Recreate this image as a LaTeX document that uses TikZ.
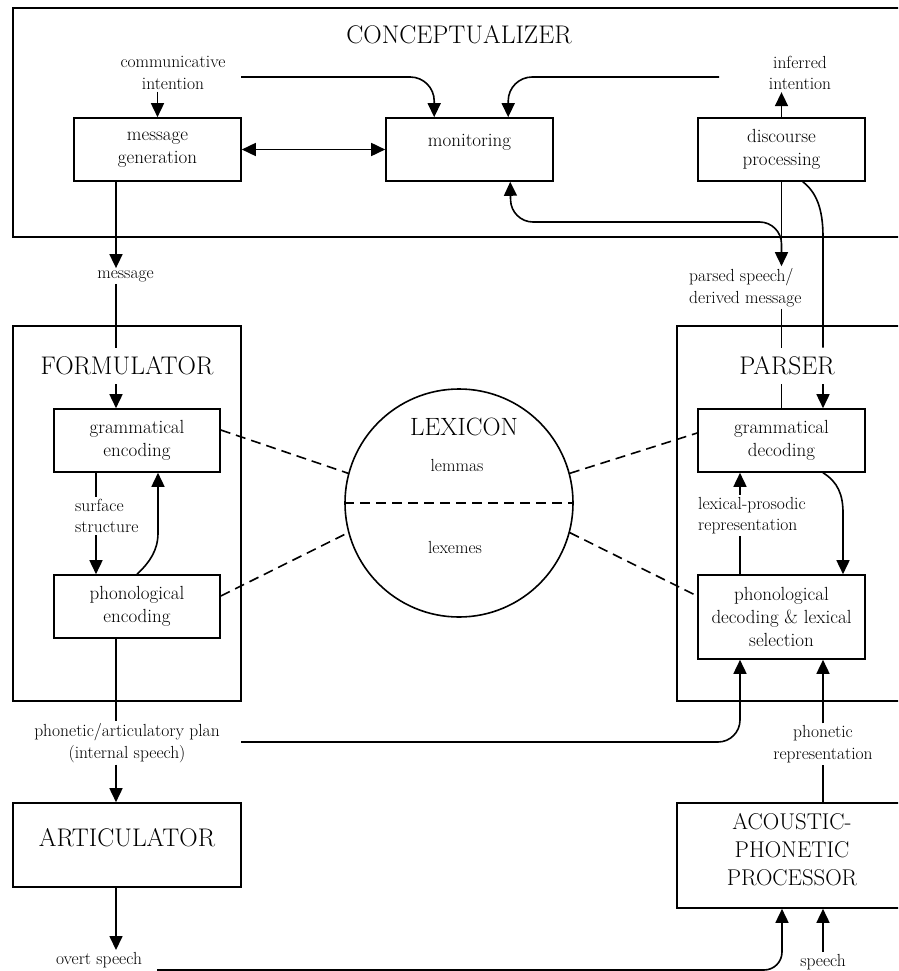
\documentclass[tikz,border=0pt]{standalone}
\usepackage{fontspec}
\usetikzlibrary{arrows.meta}
\begin{document}
\begin{tikzpicture}[x=1pt,y=-1pt,
  lw/.style={line width=1.6pt},
  arr/.style={lw,-{Triangle[length=14pt,width=13pt]}},
  darr/.style={lw,{Triangle[length=14pt,width=13pt]}-{Triangle[length=14pt,width=13pt]}},
  boxs/.style={draw,lw,inner sep=0pt,align=center,font=\fontsize{19}{23}\selectfont},
  big/.style={draw,lw,inner sep=0pt},
  ttl/.style={inner sep=9pt,font=\fontsize{25.5}{30}\selectfont},
  lbl/.style={inner sep=2pt,align=center,font=\fontsize{17.5}{21.5}\selectfont},
  dsh/.style={lw,dash pattern=on 10pt off 6pt},
]
\clip (0,0) rectangle (898,971);
\fill[white] (0,0) rectangle (898,971);

% ---------- conceptualizer ----------
\node[big, minimum width=897pt, minimum height=229pt] (concept) at (461.5,122.5) {};
\node[ttl] (ctitle) at (459,35) {CONCEPTUALIZER};
\node[boxs, minimum width=167pt, minimum height=63pt] (mg) at (157.5,149.5) {message\\generation};
\node[boxs, minimum width=167pt, minimum height=63pt] (mon) at (469.5,149.5) {};
\node[inner sep=0pt, font=\fontsize{19}{23}\selectfont] (montxt) at (469.5,142) {monitoring};
\node[boxs, minimum width=167pt, minimum height=63pt] (dp) at (781.5,149.5) {discourse\\processing};
\node[lbl] (ci) at (173,73) {communicative\\intention};
\node[lbl] (ii) at (800,73) {inferred\\intention};

% ---------- formulator ----------
\node[big, minimum width=228pt, minimum height=375pt] (form) at (127,513.5) {};
\node[ttl] (ftitle) at (127,366) {FORMULATOR};
\node[boxs, minimum width=166pt, minimum height=63pt] (ge) at (137,440.5) {grammatical\\encoding};
\node[boxs, minimum width=166pt, minimum height=63pt] (pe) at (137,606.5) {phonological\\encoding};
\node[lbl, align=left, anchor=west] (ss) at (73,516) {surface\\structure};
\node[lbl] (msg) at (125.5,276) {message};

% ---------- parser ----------
\node[big, minimum width=233pt, minimum height=375pt] (parser) at (793.5,513.5) {};
\node[ttl] (ptitle) at (787,366) {PARSER};
\node[boxs, minimum width=167pt, minimum height=63pt] (gd) at (781.5,440.5) {grammatical\\decoding};
\node[boxs, minimum width=167pt, minimum height=84pt] (pd) at (781.5,617) {phonological\\decoding \& lexical\\selection};
\node[lbl, align=left, anchor=west] (lp) at (696,515.5) {lexical-prosodic\\representation};
\node[lbl, align=left, anchor=west] (ps) at (687,287.5) {parsed speech/\\derived message};

% ---------- lexicon ----------
\node[draw, lw, circle, minimum size=228pt, inner sep=0pt] (lex) at (459,503) {};
\node[inner sep=0pt, font=\fontsize{25}{30}\selectfont] (lextitle) at (464,427) {LEXICON};
\node[lbl] (lem) at (457,465) {lemmas};
\node[lbl] (lxm) at (455,547) {lexemes};

% ---------- bottom ----------
\node[lbl] (pap) at (127,743) {phonetic/articulatory plan\\(internal speech)};
\node[big, minimum width=228pt, minimum height=84pt] (artic) at (127,845) {};
\node[inner sep=0pt, font=\fontsize{25.5}{30}\selectfont] (artxt) at (127,838) {ARTICULATOR};
\node[lbl] (os) at (99,960) {overt speech};
\node[lbl] (pr) at (823,744) {phonetic\\representation};
\node[big, minimum width=233pt, minimum height=105pt] (apb) at (793.5,855.5) {};
\node[inner sep=0pt, align=center, font=\fontsize{22.8}{28}\selectfont] (aptxt) at (792,850) {ACOUSTIC-\\PHONETIC\\PROCESSOR};
\node[lbl] (sp) at (823,962) {speech};

% ---------- helper x positions ----------
\coordinate (xL) at (116,0);
\coordinate (xS) at (96,0);
\coordinate (xU) at (158,0);
\coordinate (xR1) at (781.5,0);
\coordinate (xR2) at (823,0);
\coordinate (xP) at (740,0);
\coordinate (xA) at (782,0);
\coordinate (xC) at (843,0);

% ---------- conceptualizer connectors ----------
\draw[arr] (ci.south -| mg.north) -- (mg.north);
\draw[darr] (mg.east) -- (mon.west);
\coordinate (cL) at (241,77);
\draw[arr, rounded corners=24pt] (cL) -| ([xshift=49pt]mon.north west);
\coordinate (cR) at (719,77);
\draw[arr, rounded corners=24pt] (cR) -| ([xshift=123pt]mon.north west);
\draw[arr] (dp.north) -- (dp.north |- ii.south);
\draw[arr] (dp.south) -- (dp.south |- ps.north);
\coordinate (j1) at (781.5,258);
\draw[arr, rounded corners=22pt] (j1) |- (511,222) -- ([xshift=125pt]mon.south west);
\draw[lw] ([xshift=-63pt]dp.south east) .. controls (816,192) and (823,208) .. (823,237) -- (ptitle.north -| xR2);

% ---------- parser connectors ----------
\draw[lw] (ps.south -| xR1) -- (ptitle.north -| xR1);
\draw[lw] (ptitle.south -| xR1) -- (gd.north -| xR1);
\draw[arr] (ptitle.south -| xR2) -- (gd.north -| xR2);
\draw[lw] (pd.north -| xP) -- (lp.south -| xP);
\draw[arr] (lp.north -| xP) -- (gd.south -| xP);
\draw[arr] (gd.south -| xR2) .. controls (838,482) and (843,495) .. (843,513) -- (pd.north -| xC);

% ---------- formulator connectors ----------
\draw[arr] (mg.south -| xL) -- (msg.north -| xL);
\draw[lw] (msg.south -| xL) -- (ftitle.north -| xL);
\draw[arr] (ftitle.south -| xL) -- (ge.north -| xL);
\draw[lw] (ge.south -| xS) -- (ss.north -| xS);
\draw[arr] (ss.south -| xS) -- (pe.north -| xS);
\draw[arr] (pe.north) .. controls (150,562) and (158,550) .. (158,533) -- (ge.south -| xU);
\draw[lw] (pe.south -| xL) -- (pap.north -| xL);
\draw[arr] (pap.south -| xL) -- (artic.north -| xL);

% ---------- bottom connectors ----------
\coordinate (pl) at (241,742);
\draw[arr, rounded corners=22pt] (pl) -| (pd.south -| xP);
\draw[arr] (artic.south -| xL) -- (os.north -| xL);
\coordinate (ol) at (157,970);
\draw[arr, rounded corners=18pt] (ol) -| (apb.south -| xA);
\draw[arr] (sp.north) -- (apb.south -| sp.north);
\draw[lw] (apb.north -| pr.south) -- (pr.south);
\draw[arr] (pr.north) -- (pd.south -| pr.north);

% ---------- lexicon dashes ----------
\draw[dsh] ([yshift=10.5pt]ge.east) -- (lex.165);
\draw[dsh] ([yshift=10.5pt]pe.east) -- (lex.195);
\draw[dsh] (lex.15) -- ([yshift=7.5pt]gd.west);
\draw[dsh] (lex.-15) -- ([yshift=21pt]pd.west);
\draw[dsh] (lex.west) -- (lex.east);
\end{tikzpicture}
\end{document}
